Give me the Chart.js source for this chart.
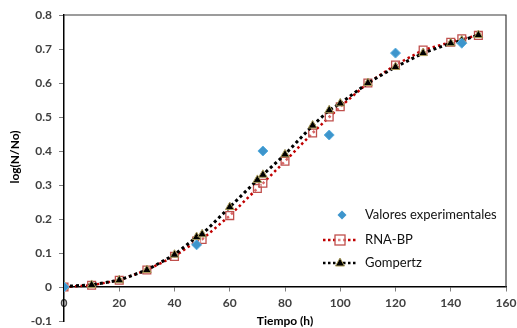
<!DOCTYPE html>
<html>
<head>
<meta charset="utf-8">
<script src="https://cdn.jsdelivr.net/npm/chart.js@4.4.0/dist/chart.umd.min.js"></script>
<style>
  html, body { margin: 0; padding: 0; background: #fff; }
  #wrap { width: 517px; height: 328px; }
</style>
</head>
<body>
<div id="wrap"><canvas id="myChart" width="517" height="328"></canvas></div>
<script>
// tiempo (h) de los modelos
var tiempo = [0, 10, 20, 30, 40, 48, 50, 60, 70, 72, 80, 90, 96, 100, 110, 120, 130, 140, 144, 150];
var rnaBP = [0, 0.005, 0.02, 0.05, 0.09, 0.135, 0.14, 0.21, 0.29, 0.305, 0.37, 0.453, 0.50, 0.53, 0.60, 0.653, 0.697, 0.72, 0.73, 0.74];
var gompertz = [0.002, 0.006, 0.02, 0.05, 0.095, 0.147, 0.155, 0.235, 0.315, 0.33, 0.39, 0.475, 0.52, 0.54, 0.60, 0.647, 0.688, 0.717, 0.725, 0.741];

// valores experimentales
var tiempoExp = [0, 48, 72, 96, 120, 144];
var valoresExp = [0, 0.124, 0.40, 0.447, 0.688, 0.717];

var xMin = 0, xMax = 160, xStep = 20;
var yMin = -0.1, yMax = 0.8, yStep = 0.1;

var FONT = "Lato, 'Open Sans', sans-serif";

function pts(xs, ys) {
  return xs.map(function(x, i){ return {x: x, y: ys[i]}; });
}

/* frame: top + right border of the plot box ----------------- */
var frame = {
  id: 'frame',
  beforeDatasetsDraw: function(chart){
    var ctx = chart.ctx, a = chart.chartArea;
    var y0 = chart.scales.y.getPixelForValue(0);
    ctx.save();
    ctx.strokeStyle = '#3a3a3a';
    ctx.lineWidth = 1.2;
    ctx.beginPath();
    ctx.moveTo(a.left, a.top);
    ctx.lineTo(a.right, a.top);
    ctx.lineTo(a.right, y0);
    ctx.stroke();
    ctx.restore();
  }
};

/* titles + legend, drawn by hand ---------------------------- */
function drawSquare(ctx, x, y){
  ctx.fillStyle = 'rgba(255,255,255,0.5)';
  ctx.strokeStyle = '#c0504d';
  ctx.lineWidth = 1.3;
  ctx.fillRect(x - 5, y - 5, 10, 10);
  ctx.strokeRect(x - 5, y - 5, 10, 10);
}
function drawTri(ctx, x, y, s){
  ctx.beginPath();
  ctx.moveTo(x, y - s);
  ctx.lineTo(x + s * 0.9, y + s * 0.6);
  ctx.lineTo(x - s * 0.9, y + s * 0.6);
  ctx.closePath();
  ctx.fillStyle = '#000';
  ctx.fill();
  ctx.strokeStyle = '#a89a5a';
  ctx.lineWidth = 1;
  ctx.stroke();
}
function dotted(ctx, x1, x2, y, color){
  ctx.save();
  ctx.strokeStyle = color;
  ctx.lineWidth = 2.5;
  ctx.setLineDash([2.5, 2.5]);
  ctx.beginPath();
  ctx.moveTo(x1, y);
  ctx.lineTo(x2, y);
  ctx.stroke();
  ctx.restore();
}

var extras = {
  id: 'extras',
  afterDraw: function(chart){
    var ctx = chart.ctx, a = chart.chartArea;
    ctx.save();
    ctx.font = 'bold 12px ' + FONT;
    ctx.fillStyle = '#000';
    ctx.textAlign = 'center';
    ctx.textBaseline = 'middle';
    // x title
    ctx.fillText('Tiempo (h)', (a.left + a.right) / 2, a.bottom);
    // y title
    ctx.translate(a.left - 49, (a.top + a.bottom) / 2 - 11);
    ctx.rotate(-Math.PI / 2);
    ctx.fillText('log(N/No)', 0, 0);
    ctx.restore();

    // legend (lower right, inside the box)
    var lx = a.right - 183, ly = a.bottom - 106;
    ctx.save();
    // diamond
    ctx.beginPath();
    ctx.moveTo(lx + 19, ly - 4.5);
    ctx.lineTo(lx + 23.5, ly);
    ctx.lineTo(lx + 19, ly + 4.5);
    ctx.lineTo(lx + 14.5, ly);
    ctx.closePath();
    ctx.fillStyle = '#3d95cc';
    ctx.fill();
    // RNA-BP
    dotted(ctx, lx, lx + 34, ly + 25, '#c00000');
    drawSquare(ctx, lx + 17, ly + 25);
    // Gompertz
    dotted(ctx, lx, lx + 34, ly + 48, '#000');
    drawTri(ctx, lx + 17, ly + 48, 5);

    ctx.font = '13px ' + FONT;
    ctx.fillStyle = '#111';
    ctx.textAlign = 'left';
    ctx.textBaseline = 'middle';
    ctx.fillText('Valores experimentales', lx + 42, ly);
    ctx.fillText('RNA-BP', lx + 42, ly + 25);
    ctx.fillText('Gompertz', lx + 42, ly + 48);
    ctx.restore();
  }
};

var ctx = document.getElementById("myChart").getContext("2d");
var data = {
  datasets: [
    {
      label: "Valores experimentales",
      data: pts(tiempoExp, valoresExp),
      showLine: false,
      pointStyle: 'rectRot',
      pointRadius: 5,
      pointBackgroundColor: '#3d95cc',
      pointBorderColor: '#5aaede',
      pointBorderWidth: 1,
      order: 0
    },
    {
      label: "Gompertz",
      data: pts(tiempo, gompertz),
      borderColor: '#000',
      borderWidth: 3,
      borderDash: [3, 3],
      pointStyle: 'triangle',
      pointRadius: 5,
      pointBackgroundColor: '#000',
      pointBorderColor: '#a89a5a',
      pointBorderWidth: 1,
      order: 1
    },
    {
      label: "RNA-BP",
      data: pts(tiempo, rnaBP),
      borderColor: '#c00000',
      borderWidth: 2.5,
      borderDash: [2.5, 3],
      pointStyle: 'rect',
      pointRadius: 5.5,
      pointBackgroundColor: 'rgba(255,255,255,0.4)',
      pointBorderColor: '#c0504d',
      pointBorderWidth: 1.3,
      order: 2
    }
  ]
};

var options = {
  responsive: false,
  animation: false,
  devicePixelRatio: 1,
  layout: { padding: { top: 15, right: 11, left: 0, bottom: 7 } },
  plugins: { legend: { display: false }, tooltip: { enabled: false } },
  scales: {
    x: {
      type: 'linear',
      position: { y: 0 },
      min: xMin, max: xMax,
      afterFit: function(s){ s.height = 0; s.paddingRight = 0; },
      grid: { drawOnChartArea: false, drawTicks: true, tickLength: 4, color: '#7f7f7f' },
      border: { color: '#000', width: 1.5 },
      ticks: { stepSize: xStep, padding: 5, color: '#404040', font: { family: FONT, size: 12, weight: 'bold' } }
    },
    y: {
      type: 'linear',
      min: yMin, max: yMax,
      afterFit: function(s){ s.width = 64; s.paddingTop = 0; s.paddingBottom = 0; },
      grid: { drawOnChartArea: false, drawTicks: true, tickLength: 5, color: '#7f7f7f' },
      border: { color: '#000', width: 1.5 },
      ticks: {
        stepSize: yStep, padding: 7, color: '#404040',
        font: { family: FONT, size: 12, weight: 'bold' },
        callback: function(v){ return parseFloat(v.toFixed(1)).toString(); }
      }
    }
  }
};

var myChart = new Chart(ctx, {
  type: 'line',
  data: data,
  options: options,
  plugins: [frame, extras]
});
</script>
</body>
</html>
